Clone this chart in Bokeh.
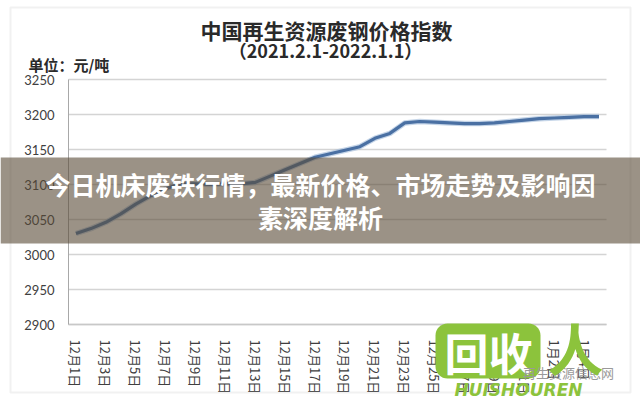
from bokeh.plotting import figure
from bokeh.models import BoxAnnotation, Label, FixedTicker, Range1d, LinearAxis
from bokeh.embed import file_html
from bokeh.resources import INLINE

# ---- data ----
dates = ["12月1日", "12月2日", "12月3日", "12月4日", "12月5日", "12月6日", "12月7日",
         "12月8日", "12月9日", "12月10日", "12月11日", "12月12日", "12月13日", "12月14日",
         "12月15日", "12月16日", "12月17日", "12月18日", "12月19日", "12月20日", "12月21日",
         "12月22日", "12月23日", "12月24日", "12月25日", "12月26日", "12月27日", "12月28日",
         "12月29日", "12月30日", "12月31日", "1月1日", "1月2日", "1月3日", "1月4日", "1月5日"]
prices = [3030, 3037, 3046, 3058, 3072, 3084, 3094, 3101, 3101, 3100, 3101, 3101,
          3103, 3112, 3121, 3130, 3139, 3144, 3149, 3154, 3166, 3173, 3188, 3190,
          3189, 3188, 3187, 3187, 3188, 3190, 3192, 3194, 3195, 3196, 3197, 3197]
y_ticks = [2900, 2950, 3000, 3050, 3100, 3150, 3200, 3250]
label_every = 2

title_main = "中国再生资源废钢价格指数"
title_sub = "（2021.2.1-2022.1.1）"
unit_text = "单位：元/吨"
banner_line1 = "今日机床废铁行情，最新价格、市场走势及影响因"
banner_line2 = "素深度解析"

xs = list(range(len(dates)))
n = len(dates)

# ---- layout (pixels) ----
W, H = 640, 400
PL, PR, PT, PB = 68, 606, 79, 324          # plot area in canvas pixels
x_lo, x_hi = -0.5, n - 0.5
y_lo, y_hi = y_ticks[0], y_ticks[-1]
kx = (x_hi - x_lo) / (PR - PL)
ky = (y_hi - y_lo) / (PB - PT)

p = figure(width=W, height=H, output_backend="svg", toolbar_location=None,
           title=None, x_axis_type=None, y_axis_type=None,
           x_range=Range1d(x_lo - PL * kx, x_hi + (W - PR) * kx),
           y_range=Range1d(y_lo - (H - PB) * ky, y_hi + PT * ky),
           min_border=0)
p.min_border_left = p.min_border_right = p.min_border_top = p.min_border_bottom = 0
p.background_fill_color = "white"
p.border_fill_color = "white"
p.outline_line_color = None
p.grid.visible = False

# grid lines (only across the plot area)
p.segment(x0=[x_lo] * len(y_ticks), x1=[x_hi] * len(y_ticks), y0=y_ticks, y1=y_ticks,
          line_color="#d4d4d4", line_width=1.5)

# axes fixed at the plot-area edges
xaxis = LinearAxis(fixed_location=y_lo, bounds=(x_lo, x_hi),
                   ticker=FixedTicker(ticks=xs[::label_every]),
                   major_label_overrides={i: dates[i] for i in xs},
                   major_label_orientation="vertical",
                   major_tick_line_color=None, minor_tick_line_color=None,
                   axis_line_color="#c8c8c8", axis_line_width=1.5,
                   major_label_text_font="Noto Sans CJK SC",
                   major_label_text_font_size="13px",
                   major_label_text_color="#404040", major_label_standoff=9)
yaxis = LinearAxis(fixed_location=x_lo, bounds=(y_lo, y_hi),
                   ticker=FixedTicker(ticks=y_ticks),
                   major_tick_line_color=None, minor_tick_line_color=None,
                   axis_line_color="#a8a8a8", axis_line_width=1,
                   major_label_text_font="Lato", major_label_text_font_size="13px",
                   major_label_text_color="#404040", major_label_standoff=8)
p.add_layout(xaxis, "below")
p.add_layout(yaxis, "left")

# series
p.line(xs, prices, color="#9fb9d9", line_width=5.5, line_alpha=0.6)
p.line(xs, prices, color="#4a70a3", line_width=3.2)

def canvas_box(l, r, t, b, **kw):
    return BoxAnnotation(left=l, right=r, top=t, bottom=b,
                         left_units="canvas", right_units="canvas",
                         top_units="canvas", bottom_units="canvas", level="overlay", **kw)

def canvas_label(x, y, text, size, color="#222222", style="bold", align="center",
                 font="Noto Sans CJK SC"):
    return Label(x=x, y=y, x_units="canvas", y_units="canvas", text=text,
                 text_font=font, text_font_size=size, text_font_style=style,
                 text_color=color, text_align=align, text_baseline="middle", level="overlay")

# outer frame
p.add_layout(canvas_box(10, 630, 7, 392, fill_alpha=0, line_color="#cfcfcf", line_width=2))

# titles
p.add_layout(canvas_label(326, 29, title_main, "21px", color="#2a2a2a"))
p.add_layout(canvas_label(325, 49, title_sub, "18px", color="#2a2a2a"))
p.add_layout(canvas_label(28, 64, unit_text, "15px", color="#2a2a2a", align="left"))

# logo watermark
green = "#8cc33c"
p.add_layout(canvas_box(435, 540, 323, 378, fill_color=green, fill_alpha=1,
                        line_color=None, border_radius=12))
p.add_layout(canvas_label(488, 351, "回收", "44px", color="white"))
p.add_layout(canvas_label(568, 372, "再生资源信息网", "13px", color="#9a9a9a", style="normal"))
p.add_layout(canvas_label(575, 346, "人", "56px", color=green))
p.add_layout(canvas_label(518, 389, "HUISHOUREN", "17px", color=green,
                          style="bold italic", font="DejaVu Sans"))

# banner overlay
p.add_layout(canvas_box(0, 640, 157, 243, fill_color="#584935", fill_alpha=0.6, line_color=None))
p.add_layout(canvas_label(320, 183.5, banner_line1, "25px", color="white"))
p.add_layout(canvas_label(320, 216.5, banner_line2, "25px", color="white"))

open("out.html", "w").write(file_html(p, INLINE))
